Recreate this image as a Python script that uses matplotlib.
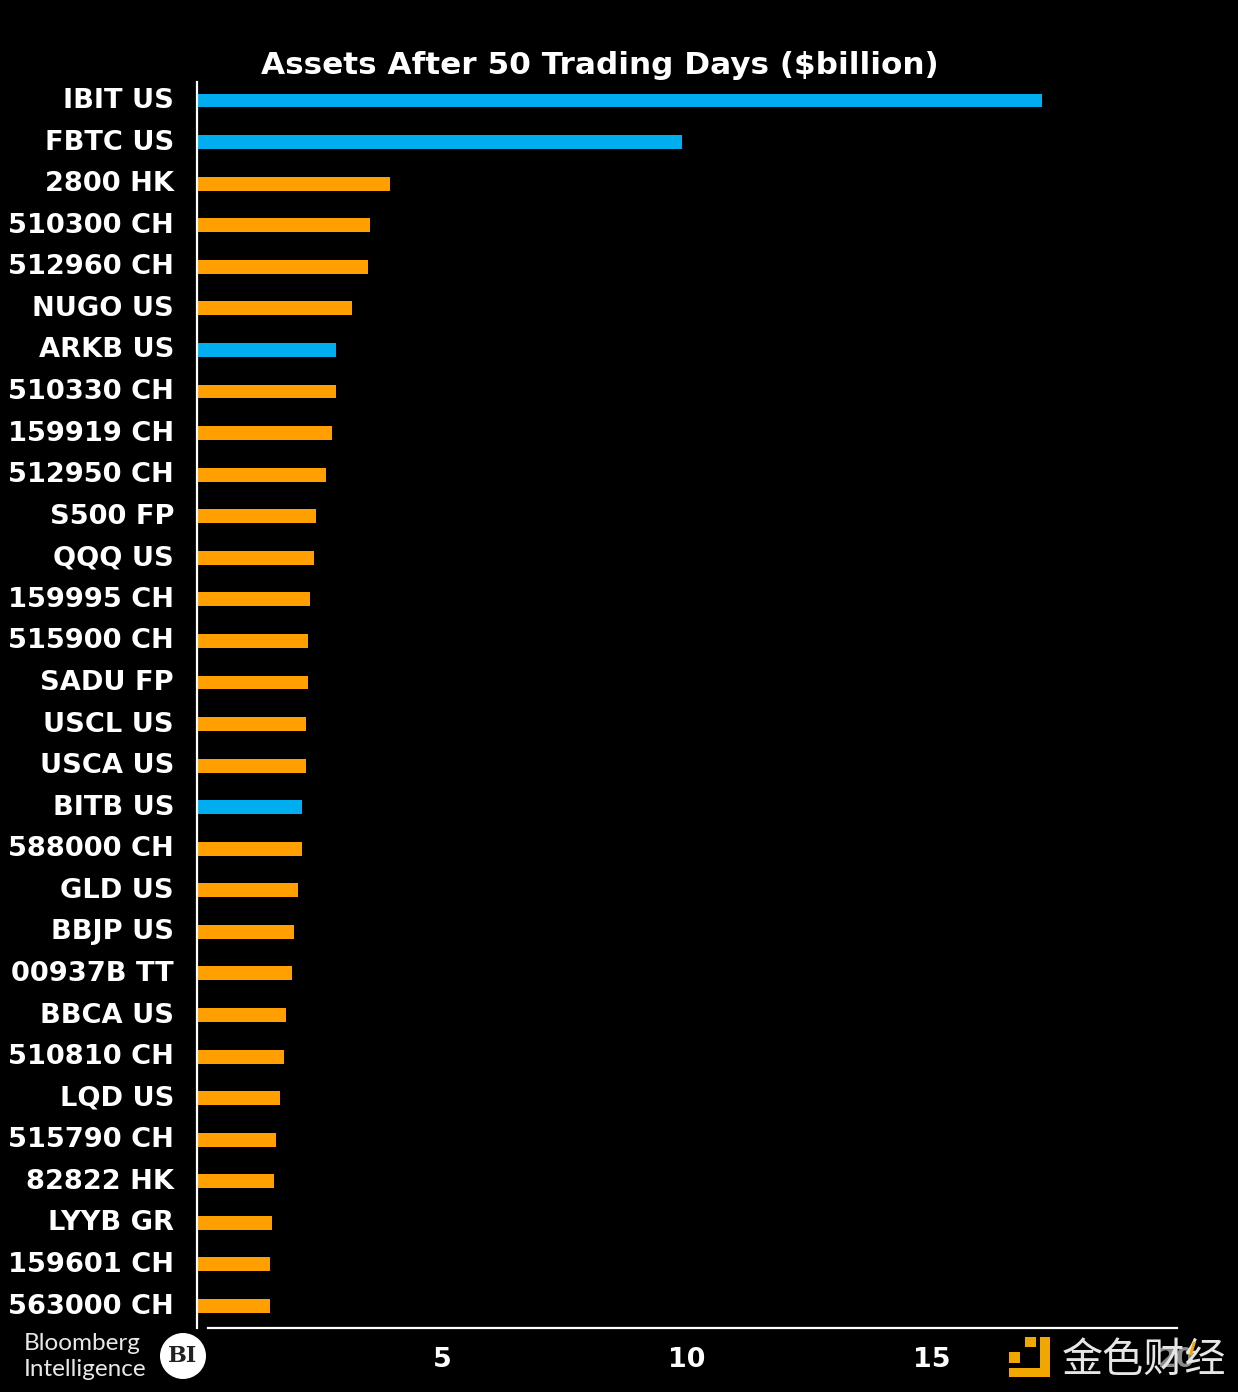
import matplotlib
matplotlib.use('Agg')
import matplotlib.pyplot as plt
from matplotlib.patches import Rectangle, Circle, Polygon
from matplotlib.transforms import ScaledTranslation

W, H = 1238, 1392

tickers = ['IBIT US', 'FBTC US', '2800 HK', '510300 CH', '512960 CH', 'NUGO US',
           'ARKB US', '510330 CH', '159919 CH', '512950 CH', 'S500 FP', 'QQQ US',
           '159995 CH', '515900 CH', 'SADU FP', 'USCL US', 'USCA US', 'BITB US',
           '588000 CH', 'GLD US', 'BBJP US', '00937B TT', 'BBCA US', '510810 CH',
           'LQD US', '515790 CH', '82822 HK', 'LYYB GR', '159601 CH', '563000 CH']
assets = [17.24, 9.90, 3.93, 3.54, 3.48, 3.16, 2.83, 2.83, 2.75, 2.64,
          2.42, 2.38, 2.30, 2.26, 2.26, 2.22, 2.22, 2.15, 2.15, 2.07,
          1.97, 1.93, 1.81, 1.77, 1.69, 1.62, 1.58, 1.53, 1.48, 1.48]
bitcoin = ['IBIT US', 'FBTC US', 'ARKB US', 'BITB US']
x_ticks = [5, 10, 15, 20]

BLUE = '#00AEEF'
ORANGE = '#FFA000'


def fx(px):
    return px / W


def fy(py):
    return 1 - py / H


fig = plt.figure(figsize=(W / 100, H / 100), dpi=100, facecolor='black')
ax = fig.add_axes([fx(197), fy(1328), (1177 - 197) / W, (1328 - 82) / H], facecolor='black')

colors = [BLUE if t in bitcoin else ORANGE for t in tickers]
ypos = list(range(len(tickers)))
ax.barh(ypos, assets, height=0.335, color=colors, linewidth=0)

# row spacing is 41.57px, first bar centre sits 18.5px under the axis top
ax.set_ylim(29 + 22 / 41.57, -18.5 / 41.57)
ax.set_xlim(0, 20)

ax.set_yticks(ypos)
ax.set_yticklabels(tickers, fontsize=19.6, fontweight='bold', color='white')
ax.tick_params(axis='y', length=0, pad=16.5)
# labels sit a little above the bar centres
shift = ScaledTranslation(0, 2.5 / 100, fig.dpi_scale_trans)
for lab in ax.get_yticklabels():
    lab.set_transform(lab.get_transform() + shift)

ax.set_xticks(x_ticks)
ax.set_xticklabels([str(v) for v in x_ticks], fontsize=19.4, fontweight='bold', color='white')
ax.tick_params(axis='x', length=0, pad=13.5)

for side in ['top', 'right']:
    ax.spines[side].set_visible(False)
ax.spines['left'].set_color('white')
ax.spines['left'].set_linewidth(1.6)
ax.spines['bottom'].set_color('white')
ax.spines['bottom'].set_linewidth(1.6)
ax.spines['bottom'].set_bounds(11 / 49, 20)

fig.text(fx(600), fy(65), 'Assets After 50 Trading Days ($billion)', color='white',
         fontsize=22.4, fontweight='bold', ha='center', va='center')

# Bloomberg Intelligence badge
fig.text(fx(24), fy(1344), 'Bloomberg', color='#e8e8e8', fontsize=17.5, family='Lato', va='center')
fig.text(fx(24), fy(1369), 'Intelligence', color='#e8e8e8', fontsize=17.5, family='Lato', va='center')
fig.add_artist(Circle((183, H - 1356), 23, transform=None, facecolor='white', edgecolor='none'))
fig.text(fx(183), fy(1356), 'BI', color='#222222', fontsize=16, family='DejaVu Serif',
         fontweight='bold', ha='center', va='center')

# watermark, sits on top of the last tick label
for x0, y0, w, h in [(1009, 1352, 11, 11), (1025, 1337, 11, 10), (1040, 1337, 10, 40), (1009, 1368, 41, 9)]:
    fig.add_artist(Rectangle((x0, H - y0 - h), w, h, transform=None, facecolor='#F0A800',
                             edgecolor='none', zorder=5))
t = fig.text(fx(1062), fy(1360), '金色财经', color='#e6e6e6', fontsize=29.6,
             family=['Noto Sans CJK SC', 'DejaVu Sans'], va='center', zorder=5)
t.set_bbox(dict(facecolor='black', alpha=0.45, edgecolor='none', pad=0))
fig.add_artist(Polygon([(1189, H - 1355), (1192, H - 1355), (1196, H - 1342), (1193, H - 1342)],
                       transform=None, facecolor='#F0A800', edgecolor='none', zorder=6))

fig.savefig('out.png', dpi=100, facecolor='black')
